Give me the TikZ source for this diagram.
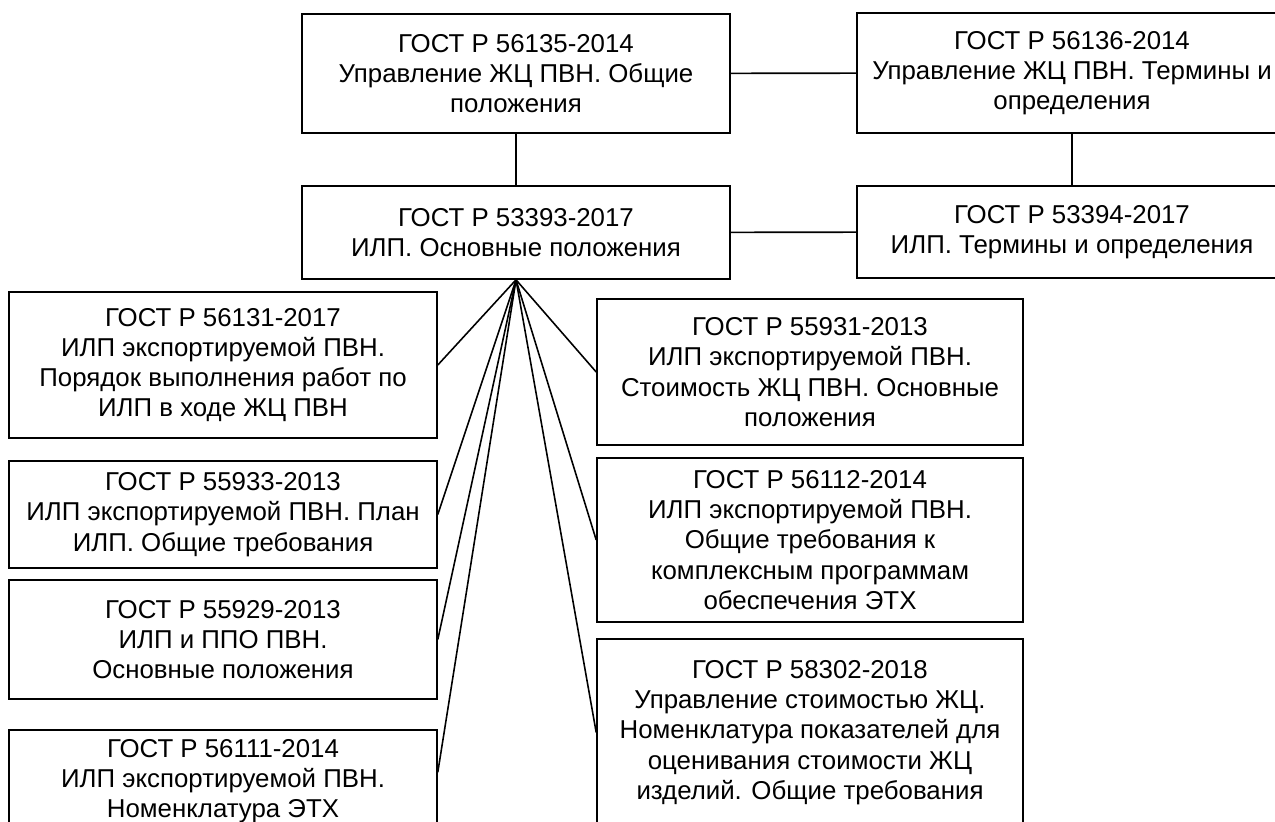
\documentclass[tikz,border=0pt]{standalone}
\usepackage{fontspec}
\setmainfont{Liberation Sans}
\usepackage{tikz}
\usetikzlibrary{positioning}

\begin{document}
\begin{tikzpicture}[font=\fontsize{14.7}{17.2}\selectfont,line width=0.9pt,
    gostbox/.style={draw,align=center,inner sep=2pt,minimum width=8.56cm}]
    \useasboundingbox (0,0) rectangle (25.5,-16.42);
    \begin{scope}
    \clip (0,0) rectangle (25.5,-16.42);
    % upper rows
    \node[gostbox,minimum height=2.38cm] (s56135) at (10.32,-1.47) {ГОСТ Р 56135-2014\\Управление ЖЦ ПВН. Общие\\положения};
    \node[gostbox,minimum width=8.6cm,minimum height=2.4cm] (s56136) at (21.44,-1.46) {ГОСТ Р 56136-2014\\Управление ЖЦ ПВН. Термины и\\определения};
    \node[gostbox,minimum height=1.86cm] (s53393) at (10.32,-4.65) {ГОСТ Р 53393-2017\\ИЛП. Основные положения};
    \node[gostbox,minimum width=8.6cm,minimum height=1.84cm] (s53394) at (21.44,-4.64) {ГОСТ Р 53394-2017\\ИЛП. Термины и определения};
    % left column
    \node[gostbox,minimum height=2.92cm] (s56131) at (4.46,-7.30) {ГОСТ Р 56131-2017\\ИЛП экспортируемой ПВН.\\Порядок выполнения работ по\\ИЛП в ходе ЖЦ ПВН};
    \node[gostbox,minimum height=2.14cm] (s55933) at (4.46,-10.29) {ГОСТ Р 55933-2013\\ИЛП экспортируемой ПВН. План\\ИЛП. Общие требования};
    \node[gostbox,minimum height=2.38cm] (s55929) at (4.46,-12.79) {ГОСТ Р 55929-2013\\ИЛП и ППО ПВН.\\Основные положения};
    \node[gostbox,minimum height=2.04cm] (s56111) at (4.46,-15.62) {ГОСТ Р 56111-2014\\ИЛП экспортируемой ПВН.\\Номенклатура ЭТХ};
    % right column
    \node[gostbox,minimum width=8.52cm,minimum height=2.92cm] (s55931) at (16.2,-7.44) {ГОСТ Р 55931-2013\\ИЛП экспортируемой ПВН.\\Стоимость ЖЦ ПВН. Основные\\положения};
    \node[gostbox,minimum width=8.52cm,minimum height=3.28cm] (s56112) at (16.2,-10.8) {ГОСТ Р 56112-2014\\ИЛП экспортируемой ПВН.\\Общие требования к\\комплексным программам\\обеспечения ЭТХ};
    \node[gostbox,minimum width=8.52cm,minimum height=3.74cm] (s58302) at (16.2,-14.65) {ГОСТ Р 58302-2018\\Управление стоимостью ЖЦ.\\Номенклатура показателей для\\оценивания стоимости ЖЦ\\изделий. Общие требования};
    % links
    \draw (s56135) -- (s56136);
    \draw (s53393) -- (s53394);
    \draw (s56135) -- (s53393);
    \draw (s56136) -- (s53394);
    \foreach \t in {s56131,s55933,s55929}{
      \draw (s53393.south) -- (\t.east);
    }
    \draw (s53393.south) -- ([yshift=-0.86cm]s56111.north east);
    \foreach \t in {s55931,s56112,s58302}{
      \draw (s53393.south) -- (\t.west);
    }
    \end{scope}
\end{tikzpicture}
\end{document}
